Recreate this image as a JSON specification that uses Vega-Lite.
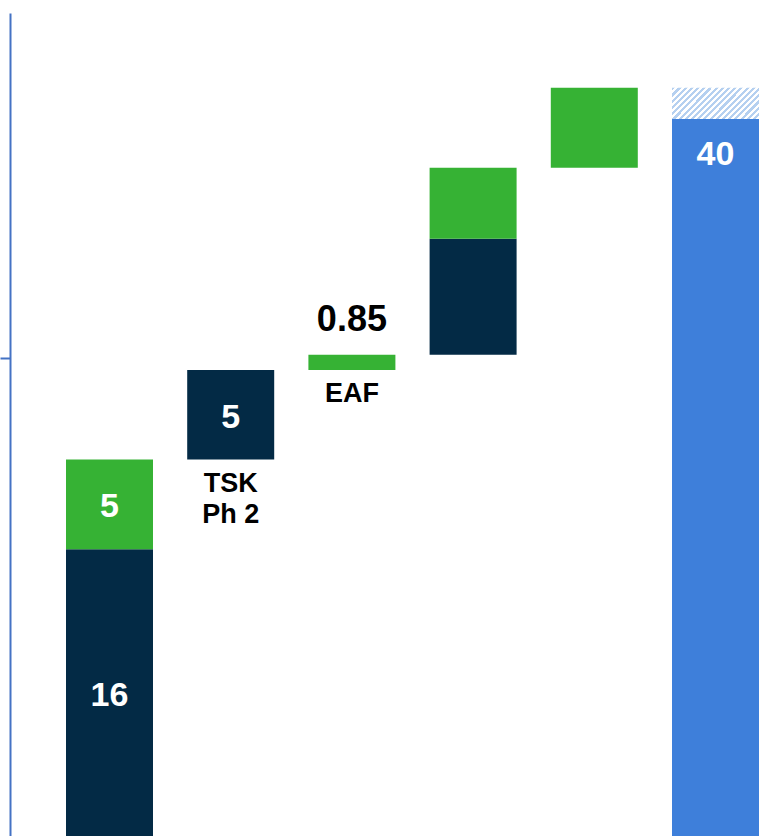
{
  "$schema": "https://vega.github.io/schema/vega-lite/v6.json",
  "width": 759,
  "height": 823,
  "autosize": {"type": "none"},
  "padding": {"left": 10, "top": 13, "right": 0, "bottom": 0},
  "background": "white",
  "config": {"view": {"stroke": null}},
  "data": {
    "values": [
      {"step": "1", "start": 0, "end": 16, "kind": "dark", "label": "16", "name": ""},
      {"step": "1", "start": 16, "end": 21, "kind": "green", "label": "5", "name": ""},
      {"step": "2", "start": 21, "end": 26, "kind": "dark", "label": "5", "name": "TSK\nPh 2"},
      {"step": "3", "start": 26, "end": 26.85, "kind": "green", "label": "0.85", "name": "EAF"},
      {"step": "4", "start": 26.85, "end": 33.32, "kind": "dark", "label": "", "name": ""},
      {"step": "4", "start": 33.32, "end": 37.28, "kind": "green", "label": "", "name": ""},
      {"step": "5", "start": 37.28, "end": 41.74, "kind": "green", "label": "", "name": ""},
      {"step": "6", "start": 0, "end": 40, "kind": "total", "label": "40", "name": ""},
      {"step": "6", "start": 40, "end": 41.74, "kind": "hatch", "label": "", "name": ""}
    ]
  },
  "encoding": {
    "x": {
      "field": "step",
      "type": "nominal",
      "sort": null,
      "axis": null,
      "scale": {"paddingInner": 0.2822, "paddingOuter": 0.2723, "align": 0.8485}
    }
  },
  "layer": [
    {
      "transform": [{"filter": "datum.kind != 'hatch'"}],
      "mark": {"type": "bar"},
      "encoding": {
        "y": {
          "field": "start",
          "type": "quantitative",
          "scale": {"domain": [0, 45.91], "nice": false, "zero": true},
          "axis": {
            "title": null,
            "labels": false,
            "grid": false,
            "values": [26.64],
            "tickSize": 10,
            "tickColor": "#4472c4",
            "tickWidth": 2,
            "domainColor": "#4472c4",
            "domainWidth": 2
          }
        },
        "y2": {"field": "end"},
        "color": {
          "field": "kind",
          "type": "nominal",
          "legend": null,
          "scale": {"domain": ["dark", "green", "total"], "range": ["#032a45", "#36b234", "#3e7fda"]}
        }
      }
    },
    {
      "transform": [{"filter": "datum.kind == 'hatch'"}],
      "mark": {
        "type": "bar",
        "fill": {
          "gradient": "linear",
          "x1": 0, "y1": 0, "x2": 1.2, "y2": 0.427,
          "stops": [
            {"offset": 0, "color": "#b5d0f0"}, {"offset": 0.0263, "color": "#b5d0f0"}, {"offset": 0.0263, "color": "#ffffff"}, {"offset": 0.0526, "color": "#ffffff"},
            {"offset": 0.0526, "color": "#b5d0f0"}, {"offset": 0.0789, "color": "#b5d0f0"}, {"offset": 0.0789, "color": "#ffffff"}, {"offset": 0.1053, "color": "#ffffff"},
            {"offset": 0.1053, "color": "#b5d0f0"}, {"offset": 0.1316, "color": "#b5d0f0"}, {"offset": 0.1316, "color": "#ffffff"}, {"offset": 0.1579, "color": "#ffffff"},
            {"offset": 0.1579, "color": "#b5d0f0"}, {"offset": 0.1842, "color": "#b5d0f0"}, {"offset": 0.1842, "color": "#ffffff"}, {"offset": 0.2105, "color": "#ffffff"},
            {"offset": 0.2105, "color": "#b5d0f0"}, {"offset": 0.2368, "color": "#b5d0f0"}, {"offset": 0.2368, "color": "#ffffff"}, {"offset": 0.2632, "color": "#ffffff"},
            {"offset": 0.2632, "color": "#b5d0f0"}, {"offset": 0.2895, "color": "#b5d0f0"}, {"offset": 0.2895, "color": "#ffffff"}, {"offset": 0.3158, "color": "#ffffff"},
            {"offset": 0.3158, "color": "#b5d0f0"}, {"offset": 0.3421, "color": "#b5d0f0"}, {"offset": 0.3421, "color": "#ffffff"}, {"offset": 0.3684, "color": "#ffffff"},
            {"offset": 0.3684, "color": "#b5d0f0"}, {"offset": 0.3947, "color": "#b5d0f0"}, {"offset": 0.3947, "color": "#ffffff"}, {"offset": 0.4211, "color": "#ffffff"},
            {"offset": 0.4211, "color": "#b5d0f0"}, {"offset": 0.4474, "color": "#b5d0f0"}, {"offset": 0.4474, "color": "#ffffff"}, {"offset": 0.4737, "color": "#ffffff"},
            {"offset": 0.4737, "color": "#b5d0f0"}, {"offset": 0.5, "color": "#b5d0f0"}, {"offset": 0.5, "color": "#ffffff"}, {"offset": 0.5263, "color": "#ffffff"},
            {"offset": 0.5263, "color": "#b5d0f0"}, {"offset": 0.5526, "color": "#b5d0f0"}, {"offset": 0.5526, "color": "#ffffff"}, {"offset": 0.5789, "color": "#ffffff"},
            {"offset": 0.5789, "color": "#b5d0f0"}, {"offset": 0.6053, "color": "#b5d0f0"}, {"offset": 0.6053, "color": "#ffffff"}, {"offset": 0.6316, "color": "#ffffff"},
            {"offset": 0.6316, "color": "#b5d0f0"}, {"offset": 0.6579, "color": "#b5d0f0"}, {"offset": 0.6579, "color": "#ffffff"}, {"offset": 0.6842, "color": "#ffffff"},
            {"offset": 0.6842, "color": "#b5d0f0"}, {"offset": 0.7105, "color": "#b5d0f0"}, {"offset": 0.7105, "color": "#ffffff"}, {"offset": 0.7368, "color": "#ffffff"},
            {"offset": 0.7368, "color": "#b5d0f0"}, {"offset": 0.7632, "color": "#b5d0f0"}, {"offset": 0.7632, "color": "#ffffff"}, {"offset": 0.7895, "color": "#ffffff"},
            {"offset": 0.7895, "color": "#b5d0f0"}, {"offset": 0.8158, "color": "#b5d0f0"}, {"offset": 0.8158, "color": "#ffffff"}, {"offset": 0.8421, "color": "#ffffff"},
            {"offset": 0.8421, "color": "#b5d0f0"}, {"offset": 0.8684, "color": "#b5d0f0"}, {"offset": 0.8684, "color": "#ffffff"}, {"offset": 0.8947, "color": "#ffffff"},
            {"offset": 0.8947, "color": "#b5d0f0"}, {"offset": 0.9211, "color": "#b5d0f0"}, {"offset": 0.9211, "color": "#ffffff"}, {"offset": 0.9474, "color": "#ffffff"},
            {"offset": 0.9474, "color": "#b5d0f0"}, {"offset": 0.9737, "color": "#b5d0f0"}, {"offset": 0.9737, "color": "#ffffff"}, {"offset": 1, "color": "#ffffff"}
          ]
        }
      },
      "encoding": {
        "y": {"field": "start", "type": "quantitative"},
        "y2": {"field": "end"}
      }
    },
    {
      "transform": [
        {"filter": "datum.step == '1' || datum.step == '2'"},
        {"fold": ["start", "end"], "as": ["k", "v"]},
        {"aggregate": [{"op": "mean", "field": "v", "as": "mid"}], "groupby": ["step", "kind", "label"]}
      ],
      "mark": {"type": "text", "font": "Liberation Sans", "fontWeight": "bold", "fontSize": 34, "color": "white", "baseline": "middle", "dy": 3},
      "encoding": {
        "y": {"field": "mid", "type": "quantitative"},
        "text": {"field": "label"}
      }
    },
    {
      "transform": [{"filter": "datum.kind == 'total'"}],
      "mark": {"type": "text", "font": "Liberation Sans", "fontWeight": "bold", "fontSize": 34, "color": "white", "baseline": "middle", "dy": 36},
      "encoding": {
        "y": {"field": "end", "type": "quantitative"},
        "text": {"field": "label"}
      }
    },
    {
      "transform": [{"filter": "datum.step == '3'"}],
      "mark": {"type": "text", "font": "Liberation Sans", "fontWeight": "bold", "fontSize": 36, "color": "black", "baseline": "middle", "dy": -35},
      "encoding": {
        "y": {"field": "end", "type": "quantitative"},
        "text": {"field": "label"}
      }
    },
    {
      "transform": [{"filter": "datum.name != ''"}],
      "mark": {"type": "text", "font": "Liberation Sans", "fontWeight": "bold", "fontSize": 27, "color": "black", "baseline": "top", "dy": 11, "lineBreak": "\n", "lineHeight": 31},
      "encoding": {
        "y": {"field": "start", "type": "quantitative"},
        "text": {"field": "name"}
      }
    }
  ]
}
